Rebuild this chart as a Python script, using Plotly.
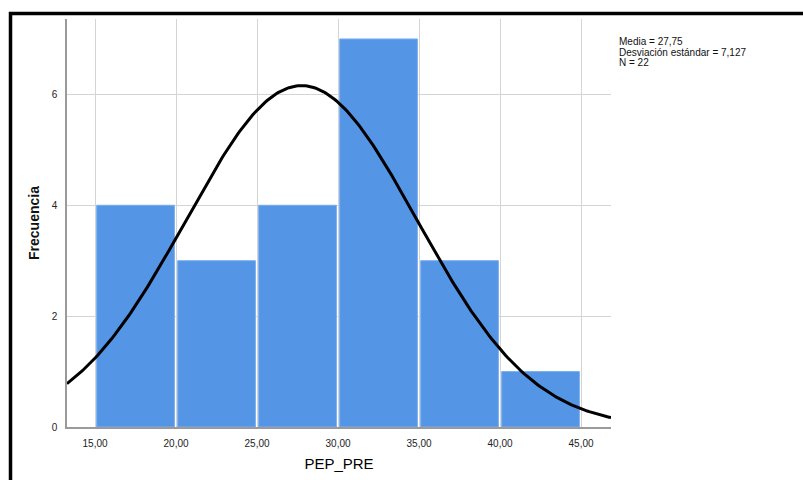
import numpy as np
import plotly.graph_objects as go

# Data
bin_starts = [15, 20, 25, 30, 35, 40]
bin_width = 5
frequencies = [4, 3, 4, 7, 3, 1]
mean_val = 27.75
sd_val = 7.127
n_val = 22
x_tick_vals = [15, 20, 25, 30, 35, 40, 45]
x_tick_text = ["15,00", "20,00", "25,00", "30,00", "35,00", "40,00", "45,00"]
y_tick_vals = [0, 2, 4, 6]
stats_lines = ["Media = 27,75", "Desviación estándar = 7,127", "N = 22"]

X_RANGE = [13.27, 46.85]
Y_RANGE = [0, 7.36]

centers = [b + bin_width / 2 for b in bin_starts]

# normal curve from the reported statistics
xs = np.linspace(X_RANGE[0], X_RANGE[1], 300)
ys = n_val * bin_width / (sd_val * np.sqrt(2 * np.pi)) * np.exp(-0.5 * ((xs - mean_val) / sd_val) ** 2)

fig = go.Figure()
fig.add_trace(go.Bar(
    x=centers, y=frequencies, width=4.8,
    marker=dict(color="#5595e5", line=dict(color="#7aaef0", width=1)),
    hoverinfo="skip"))
fig.add_trace(go.Scatter(
    x=xs, y=ys, mode="lines", line=dict(color="black", width=3), hoverinfo="skip"))

L, R, T, B = 67, 192, 19, 53
W, H = 803, 480
pw, ph = W - L - R, H - T - B

def px_x(p):
    return (p - L) / pw

def px_y(p):
    return (H - B - p) / ph

annotations = [dict(
    text=t, xref="paper", yref="paper", x=px_x(617), y=px_y(41 + 11 * i),
    xanchor="left", yanchor="middle", align="left", showarrow=False,
    font=dict(size=10, color="#111")) for i, t in enumerate(stats_lines)]

fig.update_layout(
    width=W, height=H,
    margin=dict(l=L, r=R, t=T, b=B, autoexpand=False),
    paper_bgcolor="white", plot_bgcolor="white",
    showlegend=False,
    font=dict(family="Arial, Liberation Sans, sans-serif", size=10, color="#222"),
    xaxis=dict(range=X_RANGE, tickvals=x_tick_vals, ticktext=x_tick_text,
               showgrid=True, gridcolor="#d4d4d4", gridwidth=1,
               showline=True, linecolor="#9a9a9a", linewidth=1.5,
               ticks="", zeroline=False, ticklabelstandoff=6, automargin=False,
               title=dict(text="PEP_PRE", font=dict(size=15, color="#000"), standoff=11)),
    yaxis=dict(range=Y_RANGE, tickvals=y_tick_vals,
               showgrid=True, gridcolor="#d4d4d4", gridwidth=1,
               showline=True, linecolor="#9a9a9a", linewidth=1.5,
               ticks="", zeroline=False, ticklabelstandoff=6, automargin=False,
               title=dict(text="<b>Frecuencia</b>", font=dict(size=14, color="#111"), standoff=9)),
    annotations=annotations,
    shapes=[dict(
        type="path", xref="paper", yref="paper",
        path=f"M {px_x(10.5)},{px_y(485)} L {px_x(10.5)},{px_y(13.5)} L {px_x(810)},{px_y(13.5)}",
        line=dict(color="black", width=3.5))],
)

fig.write_html("out.html", config={"displayModeBar": False},
               post_script="document.body.style.margin='0';document.body.style.overflow='hidden';")
